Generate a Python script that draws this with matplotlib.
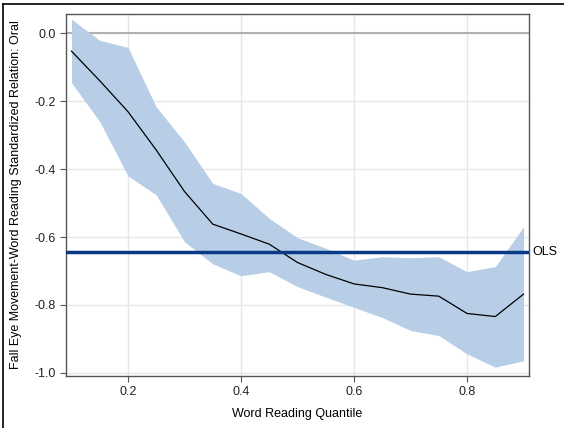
import numpy as np
import matplotlib
matplotlib.use('Agg')
import matplotlib.pyplot as plt
from matplotlib.lines import Line2D

plt.rcParams['font.family'] = ['Liberation Sans', 'DejaVu Sans']

quantiles = [0.10, 0.15, 0.20, 0.25, 0.30, 0.35, 0.40, 0.45, 0.50,
             0.55, 0.60, 0.65, 0.70, 0.75, 0.80, 0.85, 0.90]
estimate = [-0.053, -0.14, -0.231, -0.344, -0.466, -0.562, -0.591, -0.621, -0.675,
            -0.71, -0.738, -0.749, -0.768, -0.774, -0.825, -0.834, -0.768]
upper = [0.041, -0.021, -0.042, -0.217, -0.32, -0.442, -0.472, -0.545, -0.602,
         -0.633, -0.668, -0.658, -0.661, -0.658, -0.702, -0.687, -0.57]
lower = [-0.146, -0.26, -0.42, -0.476, -0.614, -0.679, -0.714, -0.702, -0.746,
         -0.777, -0.807, -0.837, -0.875, -0.89, -0.944, -0.983, -0.964]
ols = -0.644

fig = plt.figure(figsize=(5.64, 4.28), dpi=100)
ax = fig.add_axes([0.117, 0.1215, 0.821, 0.8455])

ax.grid(True, color='#e6e6e6', linewidth=1)
ax.set_axisbelow(True)
ax.fill_between(quantiles, lower, upper, color='#b8cee7', linewidth=0, zorder=2)
ax.axhline(0, color='#b0b0b0', linewidth=1.5, zorder=1.5)
ax.plot(quantiles, estimate, color='black', linewidth=0.9, zorder=3)
ax.axhline(ols, color='#0a3a85', linewidth=2.5, zorder=4)
ax.text(1.008, ols, 'OLS', transform=ax.get_yaxis_transform(), va='center',
        ha='left', fontsize=9)

ax.set_xlim(0.0903, 0.9097)
ax.set_ylim(-1.009, 0.056)
ax.set_xticks([0.2, 0.4, 0.6, 0.8])
ax.set_xticklabels(['0.2', '0.4', '0.6', '0.8'])
ax.set_yticks([0.0, -0.2, -0.4, -0.6, -0.8, -1.0])
ax.set_yticklabels(['0.0', '-0.2', '-0.4', '-0.6', '-0.8', '-1.0'])
ax.tick_params(labelsize=9, length=4, color='#555555', labelcolor='#222222')
for s in ax.spines.values():
    s.set_color('#555555')
    s.set_linewidth(1)

ax.set_xlabel('Word Reading Quantile', fontsize=9, labelpad=7)
ax.set_ylabel('Fall Eye Movement-Word Reading Standardized Relation: Oral', fontsize=9, labelpad=9)

# border of the original screenshot (top and left)
fig.add_artist(Line2D([0.005, 1.0], [0.991, 0.991], color='black', linewidth=1.2,
                      transform=fig.transFigure))
fig.add_artist(Line2D([0.006, 0.006], [0.0, 0.991], color='black', linewidth=1.2,
                      transform=fig.transFigure))

plt.savefig('out.png', dpi=100)
